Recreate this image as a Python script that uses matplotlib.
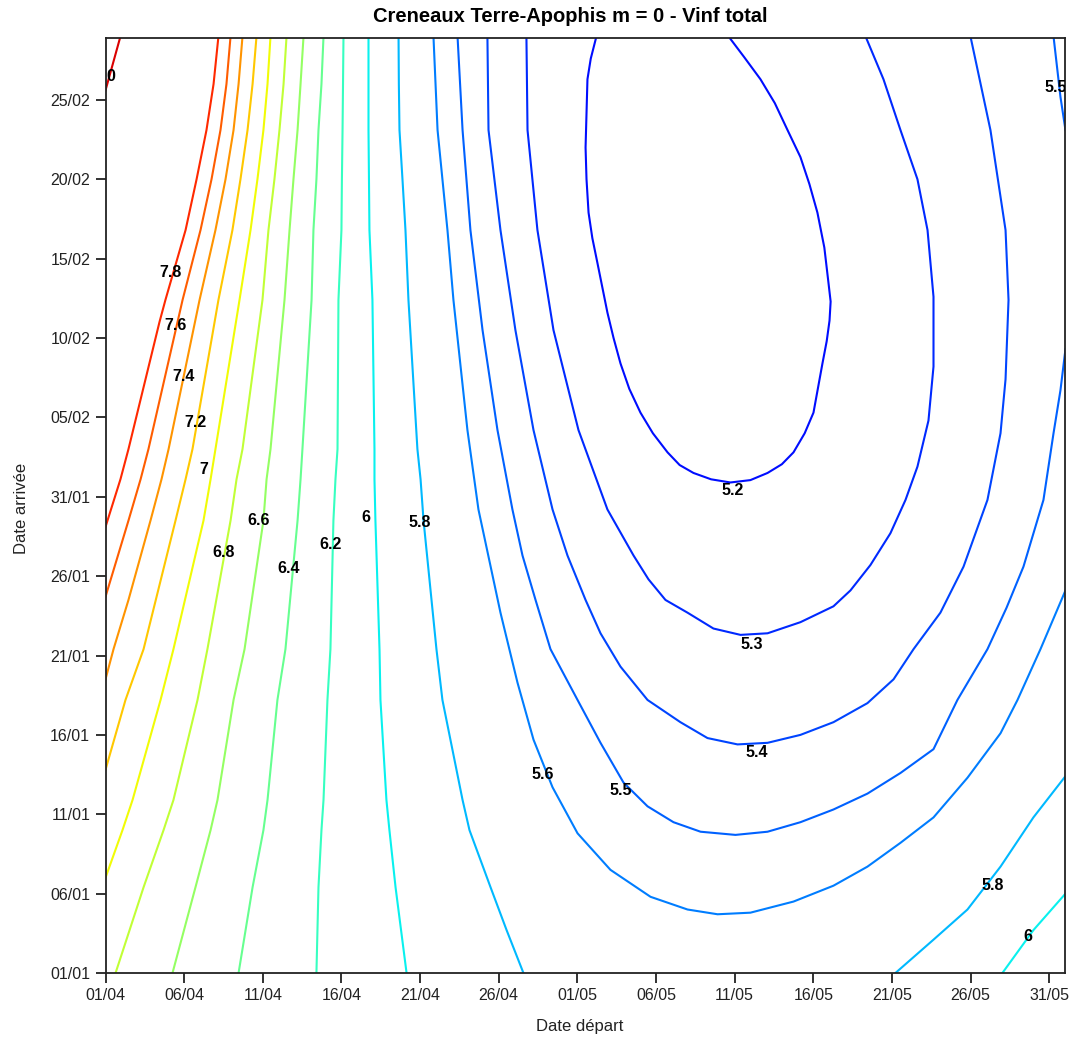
import matplotlib
matplotlib.use("Agg")
import matplotlib.pyplot as plt
from matplotlib.colors import Normalize

plt.rcParams['font.family'] = ['Liberation Sans', 'DejaVu Sans']

# --- data ---
# x: days after 01/04 (departure), y: days after 01/01 (arrival)
x_tick_labels = ["01/04", "06/04", "11/04", "16/04", "21/04", "26/04", "01/05",
                 "06/05", "11/05", "16/05", "21/05", "26/05", "31/05"]
y_tick_labels = ["01/01", "06/01", "11/01", "16/01", "21/01", "26/01", "31/01",
                 "05/02", "10/02", "15/02", "20/02", "25/02"]

# iso-lines 6.8 .. 6.0 on the left share the same arrival sample days
arr_left = [59, 56.0, 53.1, 50.0, 46.8, 42.4, 33.0, 31.1, 28.5, 20.4, 17.2, 10.9, 9.0, 5.4, 0]

dep_8_0 = [0.95, 0.0]
arr_8_0 = [59, 55.6]

dep_7_8 = [7.18, 6.87, 6.42, 5.79, 5.09, 3.81, 3.43, 1.46, 0.95, 0]
arr_7_8 = [59, 56.0, 53.1, 50.0, 46.8, 42.4, 41.0, 33.0, 31.1, 28.1]

dep_7_6 = [7.95, 7.69, 7.31, 6.74, 6.04, 4.90, 2.73, 2.23, 1.46, 0.70, 0]
arr_7_6 = [59, 56.0, 53.1, 50.0, 46.8, 42.4, 33.0, 31.1, 28.5, 26.0, 23.7]

dep_7_4 = [8.71, 8.46, 8.14, 7.63, 6.99, 5.98, 4.01, 3.56, 2.86, 1.46, 0.51, 0]
arr_7_4 = [59, 56.0, 53.1, 50.0, 46.8, 42.4, 33.0, 31.1, 28.5, 23.5, 20.4, 18.5]

dep_7_2 = [9.60, 9.35, 9.03, 8.58, 8.07, 7.18, 5.53, 5.09, 4.45, 2.42, 1.27, 0]
arr_7_2 = [59, 56.0, 53.1, 50.0, 46.8, 42.4, 33.0, 31.1, 28.5, 20.4, 17.2, 12.8]

dep_7_0 = [10.49, 10.30, 10.04, 9.66, 9.22, 8.52, 6.99, 6.68, 6.23, 4.32, 3.50, 1.72, 1.08, 0]
arr_7_0 = [59, 56.0, 53.1, 50.0, 46.8, 42.4, 33.0, 31.1, 28.5, 20.4, 17.2, 10.9, 9.0, 6.0]

dep_6_8 = [11.51, 11.32, 11.06, 10.74, 10.36, 9.98, 8.71, 8.33, 7.95, 6.48, 5.85, 4.32, 3.69, 2.42, 0.64]
dep_6_6 = [12.59, 12.40, 12.21, 11.95, 11.70, 11.38, 10.49, 10.24, 10.04, 8.84, 8.14, 7.12, 6.68, 5.72, 4.26]
dep_6_4 = [13.86, 13.73, 13.54, 13.41, 13.22, 13.10, 12.52, 12.40, 12.21, 11.44, 10.93, 10.30, 10.04, 9.35, 8.46]
dep_6_2 = [15.13, 15.10, 15.07, 15.03, 15.00, 14.81, 14.75, 14.62, 14.49, 14.30, 14.11, 13.86, 13.73, 13.54, 13.41]
dep_6_0 = [16.72, 16.72, 16.72, 16.75, 16.78, 16.97, 17.10, 17.10, 17.16, 17.42, 17.48, 17.86, 18.05, 18.44, 19.14]

dep_5_8 = [18.63, 18.65, 18.69, 18.88, 19.07, 19.26, 19.83, 20.03, 20.22, 21.04, 21.42, 22.05,
           22.70, 23.14, 24.48, 25.50, 26.57]
arr_5_8 = [59, 56.0, 53.1, 50.0, 46.8, 42.4, 33.0, 31.1, 28.5, 20.4, 17.2, 14.1,
           10.9, 9.0, 5.4, 2.7, 0]

dep_5_8b = [61.03, 58.99, 56.90, 54.80, 52.64, 50.22]
arr_5_8b = [12.4, 9.8, 6.7, 4.0, 2.1, 0]

dep_6_0b = [61.03, 58.99, 57.02]
arr_6_0b = [5.0, 2.7, 0]

dep_5_6 = [20.85, 21.11, 21.74, 22.12, 23.01, 23.71, 25.11, 26.19, 27.21, 28.42, 30.01, 32.10,
           34.65, 37.00, 38.91, 41.00, 43.74, 46.28, 48.44, 50.54, 52.64, 54.80, 56.90, 57.98,
           59.44, 61.03]
arr_5_6 = [59, 53.1, 46.8, 42.4, 34.2, 29.2, 22.7, 18.3, 14.7, 11.7, 8.8, 6.5,
           4.8, 4.0, 3.7, 3.8, 4.5, 5.5, 6.7, 8.2, 9.8, 12.3, 15.1, 17.2,
           20.4, 24.1]

dep_5_5 = [22.38, 22.70, 23.20, 23.97, 24.92, 25.87, 26.51, 27.34, 28.29, 30.01, 31.47, 32.93,
           34.46, 36.11, 37.83, 40.05, 42.09, 44.18, 46.28, 48.44, 50.54, 52.64, 54.16, 56.07,
           57.28, 58.36, 59.63, 60.27, 60.71, 61.03]
arr_5_5 = [59, 53.1, 46.8, 40.5, 34.2, 29.2, 26.3, 23.5, 20.4, 17.2, 14.5, 12.0,
           10.5, 9.5, 8.9, 8.7, 8.9, 9.5, 10.3, 11.3, 12.6, 14.1, 17.2, 20.4,
           23.0, 25.6, 29.8, 34.0, 36.7, 39.3]

dep_5_5b = [60.27, 60.71, 61.03]
arr_5_5b = [59, 55.2, 53.1]

dep_5_4 = [24.28, 24.35, 25.11, 26.06, 27.21, 28.42, 29.37, 30.52, 31.47, 32.74, 34.46, 36.55,
           38.27, 40.18, 42.09, 44.18, 46.28, 48.44, 50.10, 51.37, 53.08, 54.55, 56.07, 56.90,
           57.22, 57.41, 57.22, 56.26, 54.99]
arr_5_4 = [59, 53.1, 46.8, 40.5, 34.2, 29.2, 26.3, 23.5, 21.4, 19.3, 17.2, 15.8,
           14.8, 14.4, 14.5, 15.0, 15.8, 17.0, 18.5, 20.4, 22.7, 25.6, 29.8, 34.0,
           37.4, 42.4, 46.8, 53.1, 59]

dep_5_3 = [26.76, 26.83, 27.46, 28.48, 30.07, 31.91, 33.57, 34.52, 35.60, 37.00, 38.65, 40.37,
           42.09, 44.18, 46.28, 47.36, 48.63, 49.90, 50.86, 51.62, 52.32, 52.64, 52.64, 52.26,
           51.62, 50.54, 49.46, 48.32]
arr_5_3 = [59, 53.1, 46.8, 40.5, 34.2, 29.2, 26.3, 24.8, 23.5, 22.7, 21.7, 21.3,
           21.4, 22.1, 23.1, 24.1, 25.7, 27.7, 29.8, 31.9, 34.8, 38.2, 42.6, 46.8,
           50.0, 53.1, 56.3, 59]

dep_5_2 = [31.21, 30.85, 30.64, 30.52, 30.58, 30.71, 30.95, 31.28, 31.91, 32.30, 32.74, 33.30,
           34.01, 34.80, 35.73, 36.50, 37.38, 38.50, 39.73, 41.00, 42.09, 43.00, 43.74, 44.45,
           45.01, 45.58, 45.85, 46.03, 46.10, 45.96, 45.70, 45.26, 44.75, 44.18, 43.36, 42.55,
           41.64, 40.60, 39.61]
arr_5_2 = [59, 57.6, 56.3, 52.0, 50.0, 47.9, 46.3, 44.7, 41.6, 40.0, 38.4, 36.8,
           35.3, 34.0, 32.8, 32.0, 31.5, 31.1, 30.9, 31.05, 31.5, 32.05, 32.8, 34.0,
           35.3, 38.4, 39.8, 41.1, 42.3, 43.5, 45.7, 47.9, 49.7, 51.4, 53.1, 54.8,
           56.3, 57.7, 59]

contours = [
    (8.0, dep_8_0, arr_8_0), (7.8, dep_7_8, arr_7_8), (7.6, dep_7_6, arr_7_6),
    (7.4, dep_7_4, arr_7_4), (7.2, dep_7_2, arr_7_2), (7.0, dep_7_0, arr_7_0),
    (6.8, dep_6_8, arr_left), (6.6, dep_6_6, arr_left), (6.4, dep_6_4, arr_left),
    (6.2, dep_6_2, arr_left), (6.0, dep_6_0, arr_left), (5.8, dep_5_8, arr_5_8),
    (5.8, dep_5_8b, arr_5_8b), (6.0, dep_6_0b, arr_6_0b),
    (5.6, dep_5_6, arr_5_6), (5.5, dep_5_5, arr_5_5), (5.5, dep_5_5b, arr_5_5b),
    (5.4, dep_5_4, arr_5_4), (5.3, dep_5_3, arr_5_3), (5.2, dep_5_2, arr_5_2),
]

# contour labels (text and where they sit)
label_text = ["7.8", "7.6", "7.4", "7.2", "7", "6.8", "6.6", "6.4", "6.2", "6", "5.8",
              "5.6", "5.5", "5.4", "5.3", "5.2", "5.8", "6", "5.5", "0"]
label_pos = [(4.13, 44.1), (4.45, 40.8), (4.96, 37.6), (5.72, 34.7), (6.23, 31.7),
             (7.50, 26.5), (9.73, 28.5), (11.63, 25.5), (14.30, 27.0), (16.53, 28.7),
             (19.96, 28.4), (27.78, 12.5), (32.74, 11.5), (41.39, 13.9), (41.07, 20.7),
             (39.86, 30.4), (56.39, 5.5), (58.61, 2.3), (60.39, 55.8), (0.32, 56.5)]

W, H = 1070, 1039
fig = plt.figure(figsize=(W / 100, H / 100), dpi=100)
ax = fig.add_axes([105.5 / W, (H - 973) / H, (1065 - 105.5) / W, (973 - 38) / H])

cmap = plt.get_cmap('jet')
norm = Normalize(4.71, 8.28)
for lvl, xs, ys in contours:
    ax.plot(xs, ys, color=cmap(norm(lvl)), lw=1.5, solid_joinstyle='round')

for s, (x, y) in zip(label_text, label_pos):
    ax.text(x, y, s, ha='center', va='center', fontsize=11.5, fontweight='bold',
            color='black', clip_on=True)

ax.set_xlim(0, 61)
ax.set_ylim(0, 58.9)
ax.set_xticks(range(0, 61, 5))
ax.set_xticklabels(x_tick_labels)
ax.set_yticks(range(0, 56, 5))
ax.set_yticklabels(y_tick_labels)
ax.tick_params(direction='out', length=7, width=1.3, labelsize=11.5, pad=4,
               colors='#222222')
for sp in ax.spines.values():
    sp.set_linewidth(1.3)
    sp.set_color('#222222')

fig.text(570 / W, 1 - 16 / H, "Creneaux Terre-Apophis m = 0 - Vinf total",
         ha='center', va='center', fontsize=14.5, fontweight='bold')
fig.text(580 / W, 1 - 1027 / H, "Date départ", ha='center', va='center', fontsize=12,
         color='#222222')
fig.text(22 / W, 1 - 508 / H, "Date arrivée", ha='center', va='center', fontsize=12,
         rotation=90, color='#222222')

fig.savefig("out.png", dpi=100)
